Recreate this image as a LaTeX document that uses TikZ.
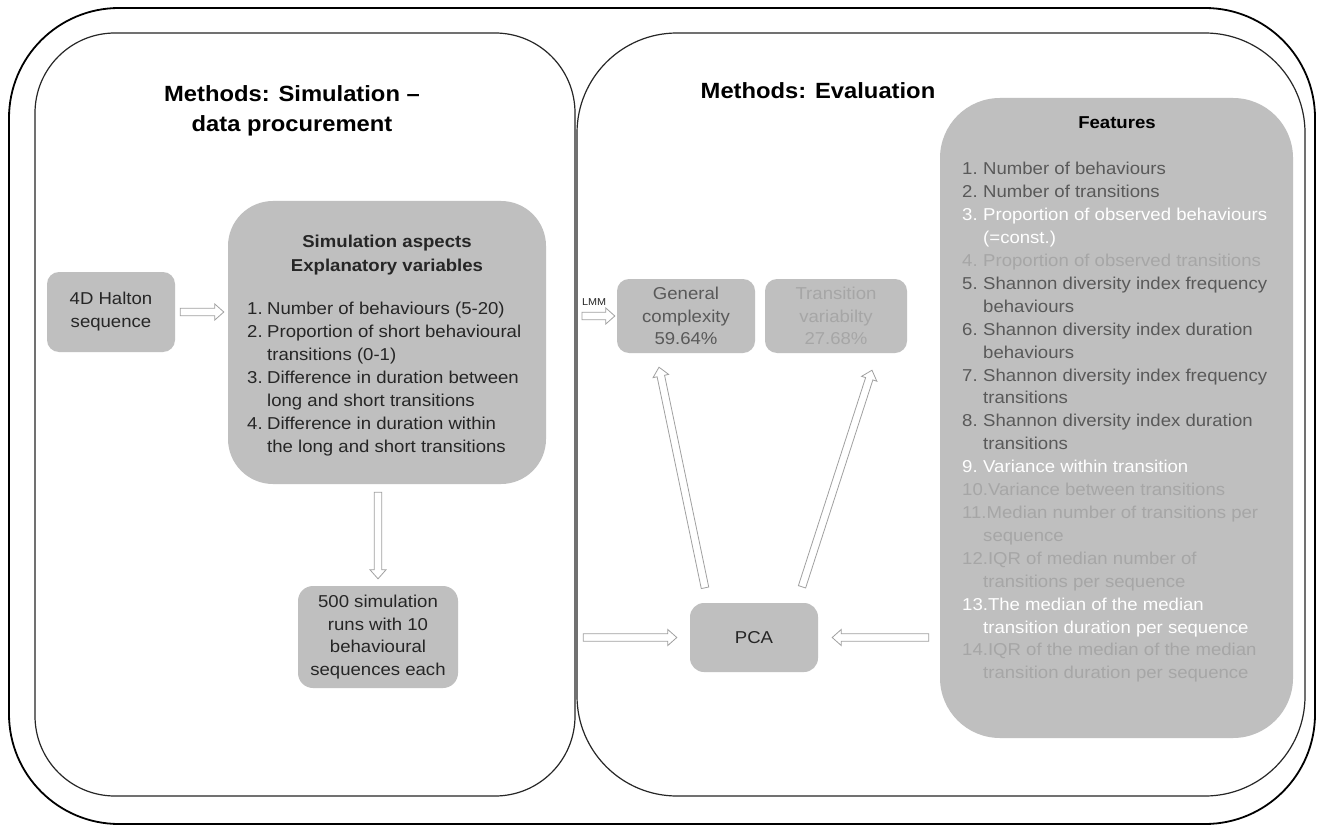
\documentclass[tikz,border=0pt]{standalone}
\usepackage{fontspec}
\setmainfont{Liberation Sans}[FakeStretch=1.08]
\usetikzlibrary{calc}
\definecolor{boxgray}{HTML}{BFBFBF}
\definecolor{txtdark}{HTML}{262626}
\definecolor{txtmid}{HTML}{595959}
\definecolor{txtlight}{HTML}{A6A6A6}
\definecolor{arrowgray}{HTML}{A0A0A0}
\newcommand\litem[1]{\makebox[21pt][l]{#1}}
\newcommand\lcont{\hspace*{21pt}}
\newcommand\sitem[1]{\makebox[20pt][l]{#1}}
\newcommand\scont{\hspace*{20pt}}
\tikzset{
  outerframe/.style={draw=black, line width=1.8pt},
  panelframe/.style={draw=black!85, line width=1.2pt},
  gbox/.style={fill=boxgray, draw=none, inner sep=0pt},
  body/.style={font=\fontsize{17.2}{23}\selectfont, text=txtdark},
  titletext/.style={font=\fontsize{22}{30}\selectfont\bfseries, text=black, align=center},
  harrow/.style={draw=arrowgray, fill=white, line width=0.8pt, line join=miter},
}
\newcommand\hollowarrow[4]{%
  \path[harrow] let \p1=(#1), \p2=(#2),
    \n1={atan2(\y2-\y1,\x2-\x1)}, \n2={veclen(\x2-\x1,\y2-\y1)},
    \n3={#3*1pt}, \n4={\n2-#4*1pt}, \n5={\n2-#4*1pt-9pt} in
    ($(\p1)+(\n1:\n3)+(\n1+90:3.8pt)$) --
    ($(\p1)+(\n1:\n5)+(\n1+90:3.8pt)$) --
    ($(\p1)+(\n1:\n5)+(\n1+90:8pt)$) --
    ($(\p1)+(\n1:\n4)$) --
    ($(\p1)+(\n1:\n5)+(\n1-90:8pt)$) --
    ($(\p1)+(\n1:\n5)+(\n1-90:3.8pt)$) --
    ($(\p1)+(\n1:\n3)+(\n1-90:3.8pt)$) -- cycle;
}
\begin{document}
\begin{tikzpicture}[x=1pt, y=-1pt]
\useasboundingbox (0,0) rectangle (1321,826);
\fill[white] (0,0) rectangle (1321,826);

% frames
\draw[outerframe, rounded corners=110pt] (9,8) rectangle (1315,824);
\draw[panelframe, rounded corners=80pt] (35,33) rectangle (575,796);
\draw[panelframe, rounded corners=100pt] (577,33) rectangle (1305,796);

% titles
\node[titletext] (t1) at (292,111) {Methods: Simulation –\\data procurement};
\node[titletext] (t2) at (818,91) {Methods: Evaluation};

% left panel boxes
\node[gbox, body, rounded corners=12pt, minimum width=128pt, minimum height=80pt, align=center]
  (halton) at (111,312) {4D Halton\\sequence};
\node[gbox, rounded corners=45pt, minimum width=318pt, minimum height=283pt]
  (sim) at (387,342.5) {};
\node[body, font=\fontsize{17.2}{24}\selectfont\bfseries, align=center, inner sep=0pt]
  (simtitle) at (387,255) {Simulation aspects\\Explanatory variables};
\node[body, anchor=base west, inner sep=0pt] (simlist) at (247,314) {%
  \begin{minipage}[t]{300pt}\raggedright
  \sitem{1.}Number of behaviours (5-20)\\
  \sitem{2.}Proportion of short behavioural\\
  \scont transitions (0-1)\\
  \sitem{3.}Difference in duration between\\
  \scont long and short transitions\\
  \sitem{4.}Difference in duration within\\
  \scont the long and short transitions
  \end{minipage}};
\node[gbox, body, rounded corners=15pt, minimum width=160pt, minimum height=102pt, align=center,
  font=\fontsize{17.2}{22.5}\selectfont]
  (r500) at (378,637) {500 simulation\\runs with 10\\behavioural\\sequences each};

% right panel boxes
\node[gbox, body, rounded corners=12pt, minimum width=138pt, minimum height=74pt, align=center,
  text=txtmid, font=\fontsize{17.2}{22.5}\selectfont]
  (gen) at (686,316) {General\\complexity\\59.64\%};
\node[gbox, body, rounded corners=12pt, minimum width=142pt, minimum height=74pt, align=center,
  text=txtlight, font=\fontsize{17.2}{22.5}\selectfont]
  (trans) at (836,316) {Transition\\variabilty\\27.68\%};
\node[font=\fontsize{10}{12}\selectfont, text=txtdark, inner sep=0pt] (lmm) at (594,302) {LMM};
\coordinate (lmmstart) at (582,316);
\node[gbox, body, rounded corners=14pt, minimum width=128pt, minimum height=69pt]
  (pca) at (754,637.5) {PCA};
\node[gbox, rounded corners=60pt, minimum width=353pt, minimum height=640pt]
  (feat) at (1116.5,418) {};
\node[font=\fontsize{17.2}{23}\selectfont\bfseries, text=black, inner sep=0pt]
  (feattitle) at (1117,123) {Features};
\node[font=\fontsize{17.2}{22.9}\selectfont, text=txtmid, anchor=base west, inner sep=0pt] (featlist) at (962,175) {%
  \begin{minipage}[t]{345pt}\raggedright
  \litem{1.}Number of behaviours\\
  \litem{2.}Number of transitions\\
  \color{white}\litem{3.}Proportion of observed behaviours\\
  \lcont(=const.)\\
  \color{txtlight}\litem{4.}Proportion of observed transitions\\
  \color{txtmid}\litem{5.}Shannon diversity index frequency\\
  \lcont behaviours\\
  \litem{6.}Shannon diversity index duration\\
  \lcont behaviours\\
  \litem{7.}Shannon diversity index frequency\\
  \lcont transitions\\
  \litem{8.}Shannon diversity index duration\\
  \lcont transitions\\
  \color{white}\litem{9.}Variance within transition\\
  \color{txtlight}10.Variance between transitions\\
  11.Median number of transitions per\\
  \lcont sequence\\
  12.IQR of median number of\\
  \lcont transitions per sequence\\
  \color{white}13.The median of the median\\
  \lcont transition duration per sequence\\
  \color{txtlight}14.IQR of the median of the median\\
  \lcont transition duration per sequence
  \end{minipage}};

% connectors
\hollowarrow{halton.east}{sim.west |- halton.east}{5}{4}
\hollowarrow{r500.north |- sim.south}{r500.north}{8}{7}
\hollowarrow{lmmstart}{gen.west}{0}{2}
\hollowarrow{r500.east |- pca.west}{pca.west}{125}{13}
\hollowarrow{feat.west |- pca.east}{pca.east}{11}{14}
\hollowarrow{$(pca.north)+(-49,-15)$}{$(gen.south)+(-27,14)$}{0}{0}
\hollowarrow{$(pca.north)+(48,-16)$}{$(trans.south)+(36,17)$}{0}{0}
\end{tikzpicture}
\end{document}
